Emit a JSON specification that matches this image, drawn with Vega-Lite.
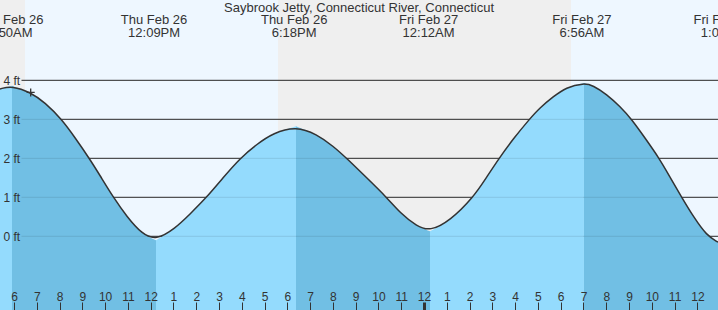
{
  "$schema": "https://vega.github.io/schema/vega-lite/v6.json",
  "width": 718,
  "height": 310,
  "autosize": {"type": "none"},
  "padding": 0,
  "background": "#eef7ff",
  "title": {
    "text": "Saybrook Jetty, Connecticut River, Connecticut",
    "fontSize": 13,
    "fontWeight": "normal",
    "font": "Liberation Sans",
    "color": "#333333",
    "anchor": "middle",
    "frame": "group",
    "offset": -25,
    "baseline": "alphabetic"
  },
  "config": {
    "view": {"stroke": null},
    "font": "Liberation Sans",
    "axis": {"labelFontSize": 12, "labelFont": "Liberation Sans", "labelColor": "#333333"}
  },
  "datasets": {
    "bands": [
      {"t": 5.3854, "t2": 6.483, "kind": "night"},
      {"t": 6.483, "t2": 17.589, "kind": "day"},
      {"t": 17.589, "t2": 30.452, "kind": "night"},
      {"t": 30.452, "t2": 36.905, "kind": "day"}
    ],
    "grid": [{"ft": 0}, {"ft": 1}, {"ft": 2}, {"ft": 3}, {"ft": 4}],
    "tide": [
      {"t": 5.3854, "h": 3.78, "seg": 0, "phase": "rise"},
      {"t": 5.912, "h": 3.86, "seg": 0, "phase": "rise"},
      {"t": 5.912, "h": 3.86, "seg": 1, "phase": "fall", "dup": true},
      {"t": 6.733, "h": 3.69, "seg": 1, "phase": "fall"},
      {"t": 7.361, "h": 3.43, "seg": 1, "phase": "fall"},
      {"t": 8.094, "h": 3.0, "seg": 1, "phase": "fall"},
      {"t": 8.678, "h": 2.53, "seg": 1, "phase": "fall"},
      {"t": 9.305, "h": 2.0, "seg": 1, "phase": "fall"},
      {"t": 9.775, "h": 1.56, "seg": 1, "phase": "fall"},
      {"t": 10.359, "h": 1.0, "seg": 1, "phase": "fall"},
      {"t": 10.96, "h": 0.5, "seg": 1, "phase": "fall"},
      {"t": 11.619, "h": 0.06, "seg": 1, "phase": "fall"},
      {"t": 12.234, "h": -0.1, "seg": 1, "phase": "fall"},
      {"t": 12.234, "h": -0.1, "seg": 2, "phase": "rise", "dup": true},
      {"t": 13.068, "h": 0.2, "seg": 2, "phase": "rise"},
      {"t": 13.726, "h": 0.57, "seg": 2, "phase": "rise"},
      {"t": 14.459, "h": 1.0, "seg": 2, "phase": "rise"},
      {"t": 15.175, "h": 1.5, "seg": 2, "phase": "rise"},
      {"t": 15.921, "h": 2.0, "seg": 2, "phase": "rise"},
      {"t": 16.654, "h": 2.36, "seg": 2, "phase": "rise"},
      {"t": 17.383, "h": 2.65, "seg": 2, "phase": "rise"},
      {"t": 18.38, "h": 2.82, "seg": 2, "phase": "rise"},
      {"t": 18.38, "h": 2.82, "seg": 3, "phase": "fall", "dup": true},
      {"t": 19.288, "h": 2.62, "seg": 3, "phase": "fall"},
      {"t": 20.017, "h": 2.31, "seg": 3, "phase": "fall"},
      {"t": 20.605, "h": 2.0, "seg": 3, "phase": "fall"},
      {"t": 21.483, "h": 1.5, "seg": 3, "phase": "fall"},
      {"t": 22.361, "h": 1.0, "seg": 3, "phase": "fall"},
      {"t": 22.945, "h": 0.6, "seg": 3, "phase": "fall"},
      {"t": 23.678, "h": 0.26, "seg": 3, "phase": "fall"},
      {"t": 24.262, "h": 0.13, "seg": 3, "phase": "fall"},
      {"t": 24.262, "h": 0.13, "seg": 4, "phase": "rise", "dup": true},
      {"t": 25.14, "h": 0.4, "seg": 4, "phase": "rise"},
      {"t": 26.163, "h": 1.0, "seg": 4, "phase": "rise"},
      {"t": 26.73, "h": 1.5, "seg": 4, "phase": "rise"},
      {"t": 27.291, "h": 2.0, "seg": 4, "phase": "rise"},
      {"t": 27.918, "h": 2.5, "seg": 4, "phase": "rise"},
      {"t": 28.621, "h": 3.0, "seg": 4, "phase": "rise"},
      {"t": 29.09, "h": 3.3, "seg": 4, "phase": "rise"},
      {"t": 29.674, "h": 3.58, "seg": 4, "phase": "rise"},
      {"t": 30.232, "h": 3.82, "seg": 4, "phase": "rise"},
      {"t": 31.02, "h": 3.93, "seg": 4, "phase": "rise"},
      {"t": 31.02, "h": 3.93, "seg": 5, "phase": "fall", "dup": true},
      {"t": 31.417, "h": 3.87, "seg": 5, "phase": "fall"},
      {"t": 32.019, "h": 3.64, "seg": 5, "phase": "fall"},
      {"t": 32.602, "h": 3.33, "seg": 5, "phase": "fall"},
      {"t": 33.115, "h": 3.0, "seg": 5, "phase": "fall"},
      {"t": 33.7, "h": 2.52, "seg": 5, "phase": "fall"},
      {"t": 34.327, "h": 2.0, "seg": 5, "phase": "fall"},
      {"t": 34.797, "h": 1.52, "seg": 5, "phase": "fall"},
      {"t": 35.311, "h": 1.0, "seg": 5, "phase": "fall"},
      {"t": 35.851, "h": 0.48, "seg": 5, "phase": "fall"},
      {"t": 36.408, "h": 0.02, "seg": 5, "phase": "fall"},
      {"t": 36.905, "h": -0.15, "seg": 5, "phase": "fall"}
    ],
    "now": [{"t": 6.733, "h": 3.69}],
    "events": [
      {"t": 5.833, "day": "Thu Feb 26", "time": "5:50AM"},
      {"t": 12.15, "day": "Thu Feb 26", "time": "12:09PM"},
      {"t": 18.3, "day": "Thu Feb 26", "time": "6:18PM"},
      {"t": 24.2, "day": "Fri Feb 27", "time": "12:12AM"},
      {"t": 30.933, "day": "Fri Feb 27", "time": "6:56AM"},
      {"t": 37.133, "day": "Fri Feb 27", "time": "1:08PM"}
    ]
  },
  "layer": [
    {
      "data": {"name": "bands"},
      "mark": {"type": "rect"},
      "encoding": {
        "x": {
          "field": "t",
          "type": "quantitative",
          "scale": {"domain": [5.3854, 36.905], "nice": false, "zero": false},
          "axis": {
            "orient": "bottom",
            "title": null,
            "values": [6,7,8,9,10,11,12,13,14,15,16,17,18,19,20,21,22,23,24,25,26,27,28,29,30,31,32,33,34,35,36],
            "tickCount": 31,
            "labelExpr": "datum.value % 12 == 0 ? '12' : '' + (datum.value % 12)",
            "domain": false,
            "grid": false,
            "tickSize": -8,
            "tickColor": "#333333",
            "tickWidth": {"condition": {"test": "datum.value == 24", "value": 3}, "value": 1},
            "labelPadding": -2,
            "labelBaseline": "alphabetic",
            "labelFontSize": 12,
            "labelFont": "Liberation Sans",
            "labelColor": "#333333",
            "labelFlush": false,
            "labelOverlap": false,
            "labelBound": false,
            "zindex": 1
          }
        },
        "x2": {"field": "t2"},
        "color": {
          "field": "kind",
          "type": "nominal",
          "scale": {"domain": ["night", "day", "rise", "fall"], "range": ["#efefef", "#eef7ff", "#94dbfd", "#71bfe4"]},
          "legend": null
        }
      }
    },
    {
      "data": {"name": "grid"},
      "mark": {"type": "rule", "color": "#333333", "strokeWidth": 1},
      "encoding": {
        "x": {"datum": 6.33, "type": "quantitative"},
        "x2": {"datum": 36.905},
        "y": {"field": "ft", "type": "quantitative"}
      }
    },
    {
      "data": {"name": "tide"},
      "mark": {"type": "area", "interpolate": "basis"},
      "encoding": {
        "x": {"field": "t", "type": "quantitative"},
        "y": {
          "field": "h",
          "type": "quantitative",
          "stack": null,
          "scale": {"domain": [-1.89, 6.06], "nice": false, "zero": false},
          "axis": {
            "orient": "left",
            "title": null,
            "values": [0, 1, 2, 3, 4],
            "labelExpr": "datum.value + ' ft'",
            "domain": false,
            "grid": false,
            "ticks": false,
            "tickSize": 0,
            "labelPadding": -3,
            "labelAlign": "left",
            "labelBaseline": "middle",
            "labelFontSize": 12,
            "labelFont": "Liberation Sans",
            "labelColor": "#333333",
            "labelOverlap": false,
            "zindex": 1
          }
        },
        "y2": {"datum": -1.89},
        "color": {"field": "phase", "type": "nominal", "legend": null},
        "detail": {"field": "seg", "type": "nominal"}
      }
    },
    {
      "data": {"name": "grid"},
      "mark": {"type": "rule", "color": "#000000", "strokeOpacity": 0.1, "strokeWidth": 1},
      "encoding": {
        "x": {"datum": 6.33, "type": "quantitative"},
        "x2": {"datum": 36.905},
        "y": {"field": "ft", "type": "quantitative"}
      }
    },
    {
      "data": {"name": "tide"},
      "transform": [{"filter": "!datum.dup"}],
      "mark": {"type": "line", "interpolate": "basis", "color": "#333333", "strokeWidth": 1.5},
      "encoding": {
        "x": {"field": "t", "type": "quantitative"},
        "y": {"field": "h", "type": "quantitative"}
      }
    },
    {
      "data": {"name": "now"},
      "mark": {"type": "point", "shape": "M-1,0L1,0M0,-1L0,1", "filled": false, "stroke": "#333333", "strokeWidth": 1.3, "size": 64, "opacity": 1},
      "encoding": {
        "x": {"field": "t", "type": "quantitative"},
        "y": {"field": "h", "type": "quantitative"}
      }
    },
    {
      "data": {"name": "events"},
      "mark": {"type": "text", "font": "Liberation Sans", "fontSize": 13, "color": "#333333", "align": "center", "baseline": "alphabetic", "dy": 24},
      "encoding": {
        "x": {"field": "t", "type": "quantitative"},
        "y": {"datum": 6.06, "type": "quantitative"},
        "text": {"field": "day", "type": "nominal"}
      }
    },
    {
      "data": {"name": "events"},
      "mark": {"type": "text", "font": "Liberation Sans", "fontSize": 13, "color": "#333333", "align": "center", "baseline": "alphabetic", "dy": 37},
      "encoding": {
        "x": {"field": "t", "type": "quantitative"},
        "y": {"datum": 6.06, "type": "quantitative"},
        "text": {"field": "time", "type": "nominal"}
      }
    }
  ]
}
